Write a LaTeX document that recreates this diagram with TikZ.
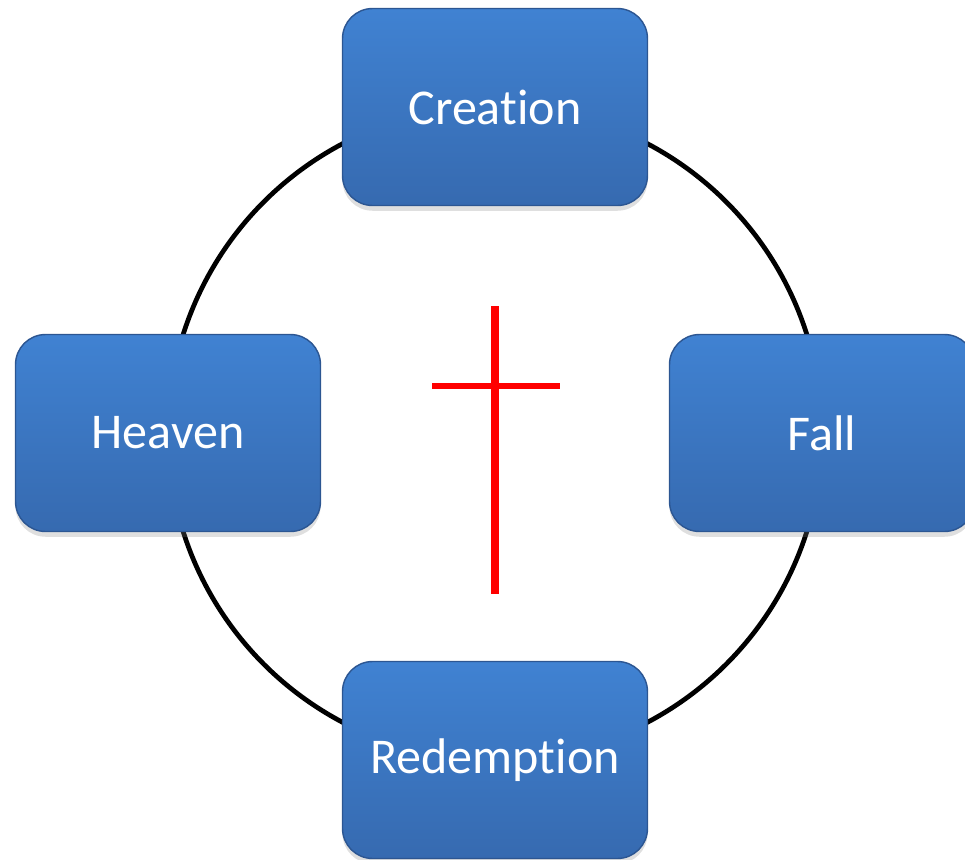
\documentclass[tikz,border=0pt]{standalone}
\usepackage{fontspec}
\setmainfont[Ligatures=NoCommon]{Carlito}
\usetikzlibrary{shadows}

\definecolor{boxtop}{RGB}{64,130,210}
\definecolor{boxbot}{RGB}{54,106,176}
\definecolor{boxedge}{RGB}{44,86,146}

\begin{document}
\begin{tikzpicture}[
    x=0.02cm, y=-0.02cm,
    stage/.style={rounded corners=0.6cm, minimum width=6.1cm, minimum height=3.94cm,
                  top color=boxtop, bottom color=boxbot, draw=boxedge, line width=0.8pt,
                  drop shadow={opacity=0.25, shadow xshift=0pt, shadow yshift=-3pt},
                  text=white, font=\fontsize{28.5}{33}\selectfont},
    ring/.style={line width=2.7pt, black},
    beam/.style={red, line width=4.2pt}]

  \useasboundingbox (0,0) rectangle (965,860);

  \coordinate (hub) at (495,433);
  \draw[ring] (hub) circle[radius=6.54cm];

  \foreach \name/\x/\y/\text in {%
    creation/495/107/Creation,
    fall/822/433/Fall,
    redemption/495/760/Redemption,
    heaven/168/433/Heaven}
  {
    \node[stage] (\name) at (\x,\y) {\text};
  }

  % cross in the middle
  \draw[beam] (495,306) -- (495,594);
  \draw[beam, line width=3.4pt] (432,386) -- (560,386);
\end{tikzpicture}
\end{document}
